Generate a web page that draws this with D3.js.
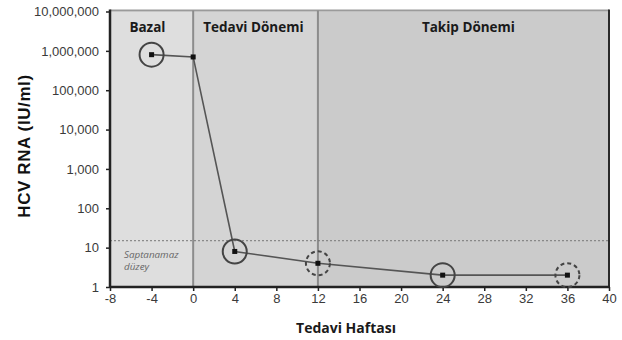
<!DOCTYPE html>
<html>
<head>
<meta charset="utf-8">
<script src="https://cdn.jsdelivr.net/npm/d3@7"></script>
<style>
  html, body { margin: 0; padding: 0; background: #fff; }
  svg { display: block; }
</style>
</head>
<body>
<svg id="chart" width="622" height="340"></svg>
<script>
// Treatment weeks and HCV RNA viral load (IU/ml)
const weeks = [-4, 0, 4, 12, 24, 36];
const viralLoad = [800000, 700000, 8, 4, 2, 2];
// Ring around each measurement: "solid" = detected/measured, "dashed" = follow-up confirmation
const ringStyle = ["solid", null, "solid", "dashed", "solid", "dashed"];

// Study phases along the week axis
const phaseNames = ["Bazal", "Tedavi Dönemi", "Takip Dönemi"];
const phaseStart = [-8, 0, 12];
const phaseEnd = [0, 12, 40];

const xTicks = [-8, -4, 0, 4, 8, 12, 16, 20, 24, 28, 32, 36, 40];
const yTicks = [1, 10, 100, 1000, 10000, 100000, 1000000, 10000000];
const detectionLimit = 15;

const svg = d3.select("#chart");
const m = { left: 110, right: 609, top: 11.5, bottom: 287 };

const x = d3.scaleLinear().domain([-8, 40]).range([m.left, m.right]);
const y = d3.scaleLog().domain([1, 10000000]).range([m.bottom, m.top]);

const phaseFill = ["#dedede", "#d4d4d4", "#cbcbcb"];

// phase backgrounds
svg.append("g").selectAll("rect")
  .data(phaseNames)
  .join("rect")
  .attr("x", (d, i) => x(phaseStart[i]))
  .attr("y", m.top)
  .attr("width", (d, i) => x(phaseEnd[i]) - x(phaseStart[i]))
  .attr("height", m.bottom - m.top)
  .attr("fill", (d, i) => phaseFill[i]);

// frame: top and right edges
svg.append("line")
  .attr("x1", m.left).attr("x2", m.right)
  .attr("y1", m.top - 1).attr("y2", m.top - 1)
  .attr("stroke", "#9a9a9a").attr("stroke-width", 2);
svg.append("line")
  .attr("x1", m.right).attr("x2", m.right)
  .attr("y1", m.top - 2).attr("y2", m.bottom)
  .attr("stroke", "#2a2a2a").attr("stroke-width", 2);

// phase boundaries
svg.append("g").selectAll("line")
  .data(phaseStart.slice(1))
  .join("line")
  .attr("x1", d => x(d)).attr("x2", d => x(d))
  .attr("y1", m.top - 1).attr("y2", m.bottom)
  .attr("stroke", "#8c8c8c").attr("stroke-width", 2);

// lower limit of detection
svg.append("line")
  .attr("x1", m.left).attr("x2", m.right)
  .attr("y1", y(detectionLimit)).attr("y2", y(detectionLimit))
  .attr("stroke", "#777").attr("stroke-width", 1)
  .attr("stroke-dasharray", "2,2");

svg.append("text")
  .attr("x", m.left + 14).attr("y", y(detectionLimit) + 17)
  .attr("font-family", "'Open Sans', sans-serif")
  .attr("font-style", "italic")
  .attr("font-size", 9.8)
  .attr("fill", "#666")
  .selectAll("tspan")
  .data(["Saptanamaz", "düzey"])
  .join("tspan")
  .attr("x", m.left + 14)
  .attr("dy", (d, i) => i === 0 ? 0 : 12)
  .text(d => d);

// phase titles
const phaseLabelX = [x(-4.4), x(0) + 10, x(22)];
svg.append("g").selectAll("text")
  .data(phaseNames)
  .join("text")
  .attr("x", (d, i) => phaseLabelX[i])
  .attr("y", 32)
  .attr("text-anchor", (d, i) => i === 0 ? "middle" : "start")
  .attr("font-family", "'Open Sans', sans-serif")
  .attr("font-weight", "bold")
  .attr("font-size", 13.5)
  .attr("fill", "#1a1a1a")
  .text(d => d);

// axes
const fmt = d3.format(",");
const yAxis = svg.append("g")
  .attr("transform", `translate(${m.left},0)`)
  .call(d3.axisLeft(y).tickValues(yTicks).tickFormat(fmt).tickSize(4).tickPadding(7));
const xAxis = svg.append("g")
  .attr("transform", `translate(0,${m.bottom})`)
  .call(d3.axisBottom(x).tickValues(xTicks).tickFormat(d => String(d)).tickSize(4).tickPadding(3));

[yAxis, xAxis].forEach(g => {
  g.select(".domain").attr("stroke", "#222").attr("stroke-width", 2.5);
  g.selectAll(".tick line").attr("stroke", "#222").attr("stroke-width", 1.5);
  g.selectAll(".tick text")
    .attr("font-family", "'Liberation Sans', Arial, sans-serif")
    .attr("font-size", 13)
    .attr("fill", "#3a3a3a");
});
yAxis.select(".domain").attr("d", `M0,${m.top - 2}V${m.bottom}`);
xAxis.select(".domain").attr("d", `M${m.left},0H${m.right + 1}`);

// axis titles
svg.append("text")
  .attr("transform", `translate(30,146) rotate(-90)`)
  .attr("text-anchor", "middle")
  .attr("font-family", "'Liberation Sans', Arial, sans-serif")
  .attr("font-weight", "bold")
  .attr("font-size", 17)
  .attr("letter-spacing", 0.6)
  .attr("fill", "#111")
  .text("HCV RNA (IU/ml)");

svg.append("text")
  .attr("x", 346).attr("y", 333)
  .attr("text-anchor", "middle")
  .attr("font-family", "'Open Sans', sans-serif")
  .attr("font-weight", "bold")
  .attr("font-size", 14)
  .attr("fill", "#1a1a1a")
  .text("Tedavi Haftası");

// series line
const pts = weeks.map((w, i) => ({ w, v: viralLoad[i], ring: ringStyle[i] }));
svg.append("path")
  .datum(pts)
  .attr("fill", "none")
  .attr("stroke", "#555")
  .attr("stroke-width", 1.6)
  .attr("d", d3.line().x(d => x(d.w)).y(d => y(d.v)));

// rings
svg.append("g").selectAll("circle")
  .data(pts.filter(d => d.ring))
  .join("circle")
  .attr("cx", d => x(d.w))
  .attr("cy", d => y(d.v))
  .attr("r", 12)
  .attr("fill", "none")
  .attr("stroke", "#444")
  .attr("stroke-width", 2)
  .attr("stroke-dasharray", d => d.ring === "dashed" ? "4,3" : null);

// square markers
svg.append("g").selectAll("rect")
  .data(pts)
  .join("rect")
  .attr("x", d => x(d.w) - 2.5)
  .attr("y", d => y(d.v) - 2.5)
  .attr("width", 5)
  .attr("height", 5)
  .attr("fill", "#111");
</script>
</body>
</html>
